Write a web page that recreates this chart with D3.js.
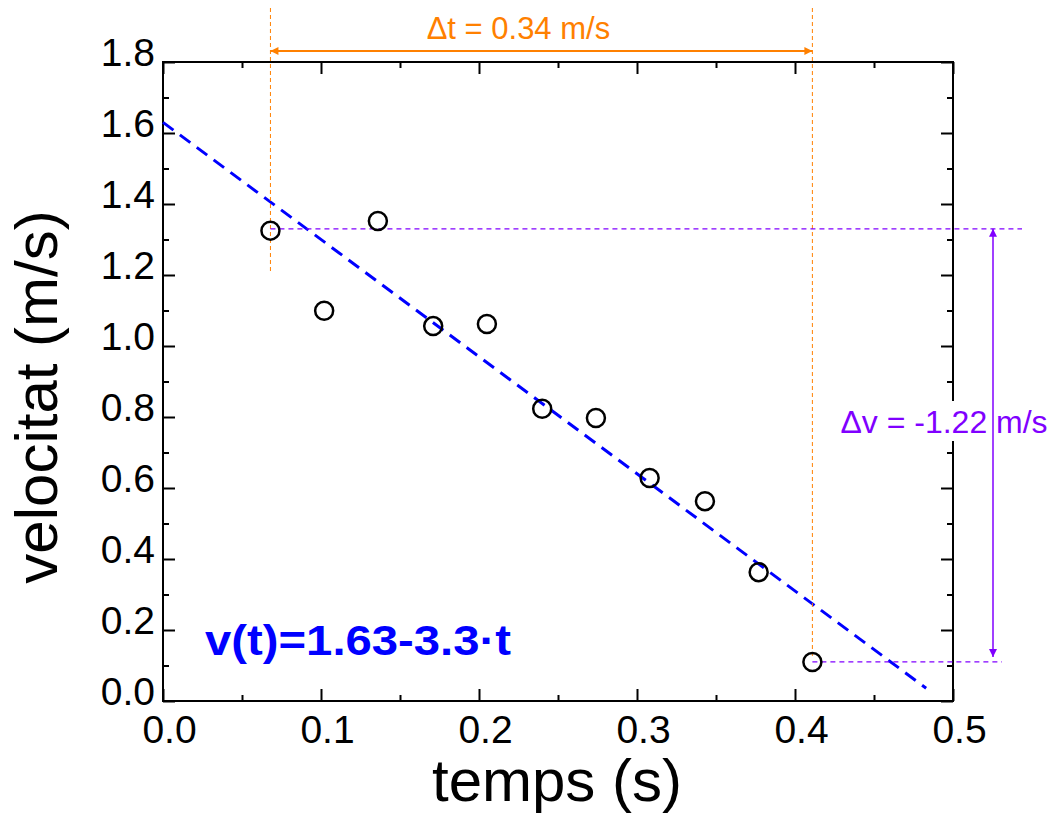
<!DOCTYPE html>
<html>
<head>
<meta charset="utf-8">
<script src="https://d3js.org/d3.v7.min.js"></script>
<style>
  body { margin: 0; background: #fff; }
  text { font-family: "Liberation Sans", Arial, sans-serif; }
</style>
</head>
<body>
<svg id="chart"></svg>
<script>
// measured data
const times = [0.068, 0.102, 0.136, 0.171, 0.205, 0.240, 0.274, 0.308, 0.343, 0.377, 0.411];
const velocities = [1.325, 1.099, 1.352, 1.056, 1.062, 0.823, 0.797, 0.628, 0.563, 0.363, 0.110];

// linear fit v(t) = a + b*t
const fitIntercept = 1.63;
const fitSlope = -3.3;
const fitRange = [0, 0.483];

// annotation values
const deltaT = [0.068, 0.411];
const deltaV = [1.33, 0.11];
const xTicks = [0, 0.1, 0.2, 0.3, 0.4, 0.5];
const yTicks = [0, 0.2, 0.4, 0.6, 0.8, 1.0, 1.2, 1.4, 1.6, 1.8];

const width = 1056, height = 814;
const margin = {top: 62, right: 103, bottom: 113, left: 163};
const innerWidth = width - margin.left - margin.right;
const innerHeight = height - margin.top - margin.bottom;

const svg = d3.select('#chart').attr('width', width).attr('height', height);

const xScale = d3.scaleLinear().domain([0, 0.5]).range([margin.left, margin.left + innerWidth]);
const yScale = d3.scaleLinear().domain([0, 1.8]).range([margin.top + innerHeight, margin.top]);

const orange = '#ff8000';
const purple = '#8000ff';

svg.append('defs').selectAll('marker')
    .data([['arrowO', orange], ['arrowP', purple]])
    .enter()
    .append('marker')
    .attr('id', d => d[0])
    .attr('viewBox', '0 0 10 10')
    .attr('refX', 10).attr('refY', 5)
    .attr('markerWidth', 12).attr('markerHeight', 8)
    .attr('markerUnits', 'userSpaceOnUse')
    .attr('orient', 'auto-start-reverse')
    .append('path')
    .attr('d', 'M0,0 L10,5 L0,10 Z')
    .attr('fill', d => d[1]);

// frame with inward ticks on all sides
const axisStyle = g => {
    g.select('.domain').remove();
    g.attr('font-family', null).attr('font-size', null);
    g.selectAll('line').attr('stroke', '#000').attr('stroke-width', 2);
    g.selectAll('text').attr('fill', '#000').style('font-size', '39px');
};
const xMinor = d3.range(0.05, 0.5, 0.1);
const yMinor = d3.range(0.1, 1.8, 0.2);

svg.append('g').attr('transform', `translate(0,${yScale(0)})`)
    .call(d3.axisBottom(xScale).tickValues(xTicks).tickFormat(d3.format('.1f')).tickSizeInner(-12).tickSizeOuter(0).tickPadding(14))
    .call(axisStyle)
    .selectAll('text').attr('dx', 6);
svg.append('g').attr('transform', `translate(0,${yScale(0)})`)
    .call(d3.axisBottom(xScale).tickValues(xMinor).tickFormat('').tickSizeInner(-6).tickSizeOuter(0))
    .call(axisStyle);
svg.append('g').attr('transform', `translate(0,${yScale(1.8)})`)
    .call(d3.axisTop(xScale).tickValues(xTicks).tickFormat('').tickSizeInner(-12).tickSizeOuter(0))
    .call(axisStyle);
svg.append('g').attr('transform', `translate(0,${yScale(1.8)})`)
    .call(d3.axisTop(xScale).tickValues(xMinor).tickFormat('').tickSizeInner(-6).tickSizeOuter(0))
    .call(axisStyle);
svg.append('g').attr('transform', `translate(${xScale(0)},0)`)
    .call(d3.axisLeft(yScale).tickValues(yTicks).tickFormat(d3.format('.1f')).tickSizeInner(-12).tickSizeOuter(0).tickPadding(8))
    .call(axisStyle)
    .selectAll('text').attr('dy', '0.1em');
svg.append('g').attr('transform', `translate(${xScale(0)},0)`)
    .call(d3.axisLeft(yScale).tickValues(yMinor).tickFormat('').tickSizeInner(-6).tickSizeOuter(0))
    .call(axisStyle);
svg.append('g').attr('transform', `translate(${xScale(0.5)},0)`)
    .call(d3.axisRight(yScale).tickValues(yTicks).tickFormat('').tickSizeInner(-12).tickSizeOuter(0))
    .call(axisStyle);
svg.append('g').attr('transform', `translate(${xScale(0.5)},0)`)
    .call(d3.axisRight(yScale).tickValues(yMinor).tickFormat('').tickSizeInner(-6).tickSizeOuter(0))
    .call(axisStyle);

svg.append('rect')
    .attr('x', xScale(0)).attr('y', yScale(1.8))
    .attr('width', xScale(0.5) - xScale(0)).attr('height', yScale(0) - yScale(1.8))
    .attr('fill', 'none').attr('stroke', '#000').attr('stroke-width', 2);

// axis titles
svg.append('text')
    .attr('x', 557).attr('y', 801)
    .attr('text-anchor', 'middle').style('font-size', '60px')
    .text('temps (s)');
svg.append('text')
    .attr('transform', 'translate(57, 397) rotate(-90)')
    .attr('text-anchor', 'middle').style('font-size', '60px')
    .text('velocitat (m/s)');

// fit line
svg.append('path')
    .datum(fitRange)
    .attr('fill', 'none').attr('stroke', '#0000ff').attr('stroke-width', 3)
    .attr('stroke-dasharray', '13,8')
    .attr('d', d3.line().x(t => xScale(t)).y(t => yScale(fitIntercept + fitSlope * t)));

// delta t guides
deltaT.forEach((t, i) => {
    svg.append('line')
        .attr('x1', xScale(t)).attr('x2', xScale(t))
        .attr('y1', 8).attr('y2', i === 0 ? 272 : yScale(deltaV[1]) - 6)
        .attr('stroke', orange).attr('stroke-width', 1).attr('stroke-dasharray', '4,3');
});
svg.append('line')
    .attr('x1', xScale(deltaT[0])).attr('x2', xScale(deltaT[1]))
    .attr('y1', 51).attr('y2', 51)
    .attr('stroke', orange).attr('stroke-width', 2)
    .attr('marker-start', 'url(#arrowO)').attr('marker-end', 'url(#arrowO)');
svg.append('text')
    .attr('x', (xScale(deltaT[0]) + xScale(deltaT[1])) / 2 - 23).attr('y', 39)
    .attr('text-anchor', 'middle').attr('fill', orange).style('font-size', '31px')
    .text('\u0394t = 0.34 m/s');

// delta v guides
svg.append('line')
    .attr('x1', xScale(deltaT[0])).attr('x2', 1022)
    .attr('y1', yScale(deltaV[0])).attr('y2', yScale(deltaV[0]))
    .attr('stroke', purple).attr('stroke-width', 1.2).attr('stroke-dasharray', '5,4');
svg.append('line')
    .attr('x1', xScale(deltaT[1])).attr('x2', 1002)
    .attr('y1', yScale(deltaV[1])).attr('y2', yScale(deltaV[1]))
    .attr('stroke', purple).attr('stroke-width', 1.2).attr('stroke-dasharray', '5,4');
svg.append('rect')
    .attr('x', 838).attr('y', 401).attr('width', 212).attr('height', 40)
    .attr('fill', '#fff');
svg.append('text')
    .attr('x', 944).attr('y', 433)
    .attr('text-anchor', 'middle').attr('fill', purple).style('font-size', '32px')
    .text('\u0394v = -1.22 m/s');
svg.append('line')
    .attr('x1', 993).attr('x2', 993)
    .attr('y1', yScale(deltaV[0])).attr('y2', yScale(deltaV[1]) - 5)
    .attr('stroke', purple).attr('stroke-width', 1.5)
    .attr('marker-start', 'url(#arrowP)').attr('marker-end', 'url(#arrowP)');

// data points
svg.selectAll('.point')
    .data(times.map((t, i) => ({t: t, v: velocities[i]})))
    .enter()
    .append('circle')
    .attr('class', 'point')
    .attr('cx', d => xScale(d.t))
    .attr('cy', d => yScale(d.v))
    .attr('r', 9)
    .attr('fill', 'none').attr('stroke', '#000').attr('stroke-width', 2.5);

// equation
svg.append('text')
    .attr('x', 205).attr('y', 655)
    .attr('fill', '#0000ff').style('font-size', '43px').style('font-weight', 'bold')
    .attr('textLength', 306).attr('lengthAdjust', 'spacingAndGlyphs')
    .text('v(t)=1.63-3.3\u00b7t');
</script>
</body>
</html>
